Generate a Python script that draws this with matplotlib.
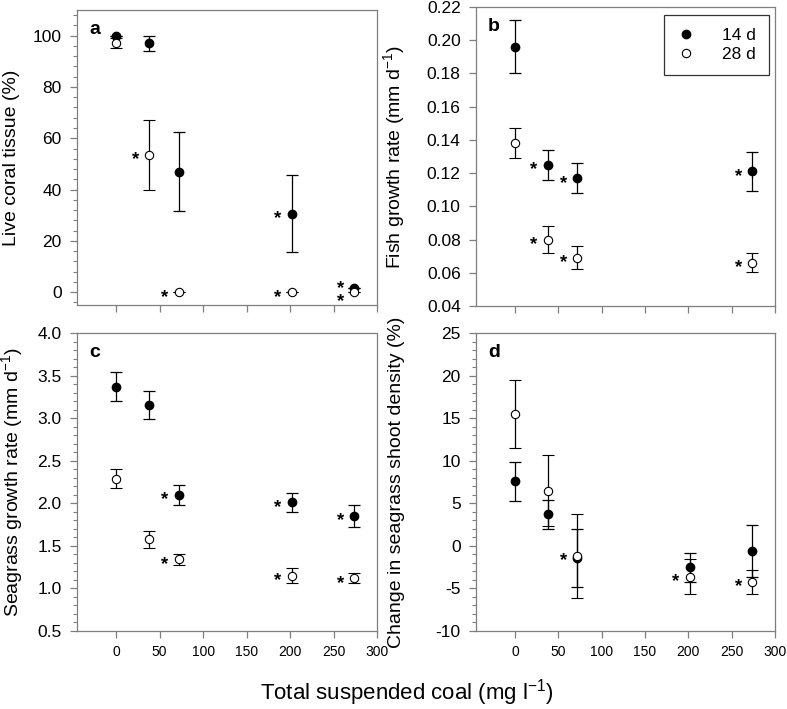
import numpy as np
import matplotlib as mpl
mpl.use('Agg')
import matplotlib.pyplot as plt
from matplotlib.ticker import MultipleLocator, FormatStrFormatter

plt.rcParams['font.family'] = ['Liberation Sans', 'DejaVu Sans']
plt.rcParams['mathtext.default'] = 'regular'

# coal concentrations (mg l-1)
coal = [0, 38, 72, 202, 274]

# a: live coral tissue (%)
coral_14 = [100, 97, 47, 30.5, 1.5]
coral_14_err = [0, 2.8, 15.4, 15, 0]
coral_28 = [97, 53.5, 0, 0, 0]
coral_28_err = [2, 13.8, 0, 0, 0]
coral_star_14 = [0, 0, 0, 1, 1]
coral_star_28 = [0, 1, 1, 1, 1]

# b: fish growth rate (mm d-1), no fish at 202
fish_14 = [0.196, 0.125, 0.117, np.nan, 0.121]
fish_14_err = [0.016, 0.009, 0.009, np.nan, 0.012]
fish_28 = [0.138, 0.080, 0.069, np.nan, 0.066]
fish_28_err = [0.009, 0.0083, 0.007, np.nan, 0.0058]
fish_star_14 = [0, 1, 1, 0, 1]
fish_star_28 = [0, 1, 1, 0, 1]

# c: seagrass growth rate (mm d-1)
grass_14 = [3.37, 3.15, 2.10, 2.01, 1.85]
grass_14_err = [0.17, 0.165, 0.12, 0.11, 0.13]
grass_28 = [2.29, 1.58, 1.34, 1.15, 1.12]
grass_28_err = [0.11, 0.10, 0.07, 0.09, 0.06]
grass_star_14 = [0, 0, 1, 1, 1]
grass_star_28 = [0, 0, 1, 1, 1]

# d: change in seagrass shoot density (%)
shoot_14 = [7.6, 3.7, -1.4, -2.5, -0.6]
shoot_14_err = [2.3, 1.7, 3.4, 1.7, 3.05]
shoot_28 = [15.5, 6.5, -1.2, -3.6, -4.25]
shoot_28_err = [4.0, 4.2, 4.9, 2.1, 1.45]
shoot_star_14 = [0, 0, 0, 0, 0]
shoot_star_28 = [0, 0, 1, 1, 1]

fig = plt.figure(figsize=(7.87, 7.09), dpi=100)

W, H = 787, 709
def add_ax(l, t, r, b):
    return fig.add_axes([l / W, 1 - b / H, (r - l) / W, (b - t) / H])

ax_a = add_ax(77, 10, 377, 305)
ax_b = add_ax(476, 7, 775, 306)
ax_c = add_ax(77, 333, 377, 631)
ax_d = add_ax(476, 333, 775, 631)

spine_col = '#7f7f7f'
panels = [
    (ax_a, 'a', 'Live coral tissue (%)', coral_14, coral_14_err, coral_28, coral_28_err,
     coral_star_14, coral_star_28, (-5, 110), 20, 4, '%d', -0.19),
    (ax_b, 'b', 'Fish growth rate (mm d$^{-1}$)', fish_14, fish_14_err, fish_28, fish_28_err,
     fish_star_14, fish_star_28, (0.04, 0.22), 0.02, None, '%.2f', -0.23),
    (ax_c, 'c', 'Seagrass growth rate (mm d$^{-1}$)', grass_14, grass_14_err, grass_28, grass_28_err,
     grass_star_14, grass_star_28, (0.5, 4.0), 0.5, 0.1, '%.1f', -0.172),
    (ax_d, 'd', 'Change in seagrass shoot density (%)', shoot_14, shoot_14_err, shoot_28, shoot_28_err,
     shoot_star_14, shoot_star_28, (-10, 25), 5, 1, '%d', -0.237),
]

handles = None
for (ax, letter, ylab, y14, e14, y28, e28, s14, s28, ylim, major, minor, fmt, labx) in panels:
    h14 = ax.errorbar(coal, y14, yerr=e14, fmt='o', color='black', mfc='black', mec='black',
                      ms=6, elinewidth=0.9, capsize=4.5, capthick=0.9, zorder=3)
    h28 = ax.errorbar(coal, y28, yerr=e28, fmt='o', color='black', mfc='white', mec='black',
                      mew=0.8, ms=6, elinewidth=0.9, capsize=4.5, capthick=0.9, zorder=4)
    if handles is None:
        handles = (h14[0], h28[0])

    # significance asterisks left of the points
    for i, x in enumerate(coal):
        both = s14[i] and s28[i] and abs(y14[i] - y28[i]) < 0.05 * (ylim[1] - ylim[0])
        for flag, yv, dy in ((s14[i], y14[i], 4.5 if both else 0), (s28[i], y28[i], -4.5 if both else 0)):
            if flag:
                ax.annotate('*', (x, yv), xytext=(-14, dy - 5), textcoords='offset pixels',
                            ha='center', va='center', fontsize=13.5, fontweight='bold')

    ax.set_xlim(-45, 300)
    ax.set_ylim(*ylim)
    ax.set_xticks(np.arange(0, 301, 50))
    ax.yaxis.set_major_locator(MultipleLocator(major))
    if minor:
        ax.yaxis.set_minor_locator(MultipleLocator(minor))
    ax.yaxis.set_major_formatter(FormatStrFormatter(fmt))
    for sp in ax.spines.values():
        sp.set_color(spine_col)
        sp.set_linewidth(0.9)
    ax.tick_params(direction='out', length=5, width=0.9, color=spine_col)
    ax.tick_params(axis='y', labelsize=12.5, pad=6)
    ax.tick_params(axis='x', labelsize=10, pad=5)
    ax.tick_params(which='minor', direction='out', length=3, width=0.8, color=spine_col)
    ax.set_ylabel(ylab, fontsize=14)
    ax.yaxis.set_label_coords(labx, 0.5)
    ax.text(0.04, 0.935, letter, transform=ax.transAxes, fontsize=14, fontweight='bold',
            ha='left', va='center')

for ax in (ax_a, ax_b):
    ax.tick_params(labelbottom=False)

leg = ax_b.legend(handles, ['14 d', '28 d'], loc='upper right', bbox_to_anchor=(0.98, 0.973),
                  borderaxespad=0, fontsize=12.5, frameon=True, fancybox=False,
                  handletextpad=1.6, borderpad=0.75, labelspacing=0.2, handlelength=1.0)
leg.get_frame().set_edgecolor('black')
leg.get_frame().set_linewidth(0.9)

fig.text(407 / W, 1 - 693 / H, 'Total suspended coal (mg l$^{-1}$)', ha='center', va='center',
         fontsize=16)

fig.savefig('out.png', dpi=100)
